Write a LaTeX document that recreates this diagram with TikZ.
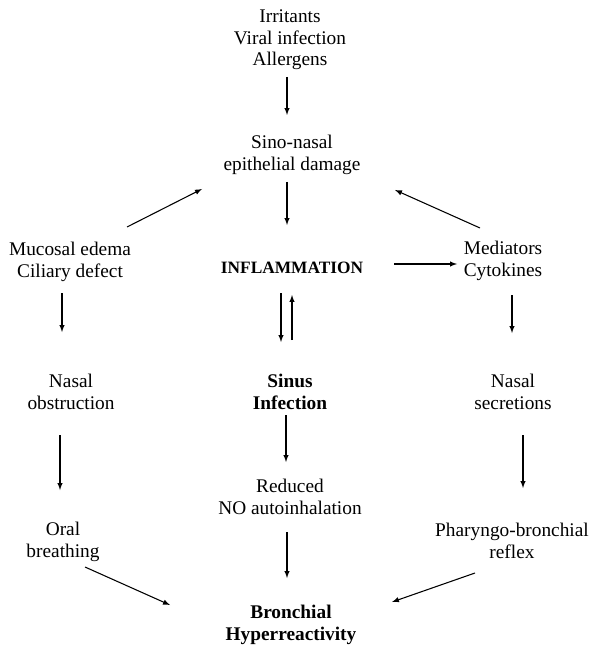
\documentclass[tikz,border=0pt]{standalone}
\usepackage{fontspec}
\setmainfont{Liberation Serif}
\usetikzlibrary{positioning}

\tikzset{
  txt/.style={align=center,inner sep=0pt,font=\fontsize{14.5}{16}\selectfont},
  hot/.style={txt,font=\fontsize{14.5}{16}\selectfont\bfseries},
}

\begin{document}
\begin{tikzpicture}[->,>=latex,x=0.75pt,y=-0.75pt,thick]

\useasboundingbox (0,0) rectangle (599,645);

% nodes, in pixels from the top left
\node [txt] (cause)  at (290,40)  {Irritants\\Viral infection\\Allergens};
\node [txt] (damage) at (292,155) {Sino-nasal\\epithelial damage};
\node [hot,font=\fontsize{13}{16}\selectfont\bfseries] (inflam) at (292,268) {INFLAMMATION};
\node [txt] (edema)  at (70,262)  {Mucosal edema\\Ciliary defect};
\node [txt] (media)  at (503,261) {Mediators\\Cytokines};
\node [txt] (obstr)  at (71,392)  {Nasal\\obstruction};
\node [hot] (sinus)  at (290,392) {Sinus\\Infection};
\node [txt] (secr)   at (513,392) {Nasal\\secretions};
\node [txt] (noinh)  at (290,497) {Reduced\\NO autoinhalation};
\node [txt] (oral)   at (63,542)  {Oral\\breathing};
\node [txt] (reflex) at (512,541) {Pharyngo-bronchial\\reflex};
\node [hot] (bhr)    at (291,625) {Bronchial\\Hyperreactivity};

% centre column
\draw ([shift={(-3,37)}]cause.center) -- ([shift={(-5,-40)}]damage.center);
\draw ([shift={(-5,27)}]damage.center) -- ([shift={(-5,-43)}]inflam.center);
\draw ([shift={(-11,25)}]inflam.center) -- ([shift={(-9,-50)}]sinus.center);
\draw ([shift={(2,-52)}]sinus.center) -- ([shift={(0,27)}]inflam.center);
\draw ([shift={(-4,23)}]sinus.center) -- ([shift={(-4,-35)}]noinh.center);
\draw ([shift={(-3,35)}]noinh.center) -- ([shift={(-4,-47)}]bhr.center);
\draw ([shift={(102,-4)}]inflam.center) -- ([shift={(-46,3)}]media.center);

% left column
\draw ([shift={(57,-35)}]edema.center) -- ([shift={(-90,34)}]damage.center);
\draw ([shift={(-8,31)}]edema.center) -- ([shift={(-9,-60)}]obstr.center);
\draw ([shift={(-11,43)}]obstr.center) -- ([shift={(-3,-52)}]oral.center);
\draw ([shift={(22,25)}]oral.center) -- ([shift={(-121,-20)}]bhr.center);

% right column
\draw ([shift={(-23,-33)}]media.center) -- ([shift={(103,35)}]damage.center);
\draw ([shift={(9,34)}]media.center) -- ([shift={(-1,-59)}]secr.center);
\draw ([shift={(10,43)}]secr.center) -- ([shift={(11,-53)}]reflex.center);
\draw ([shift={(-37,32)}]reflex.center) -- ([shift={(101,-23)}]bhr.center);

\end{tikzpicture}
\end{document}
